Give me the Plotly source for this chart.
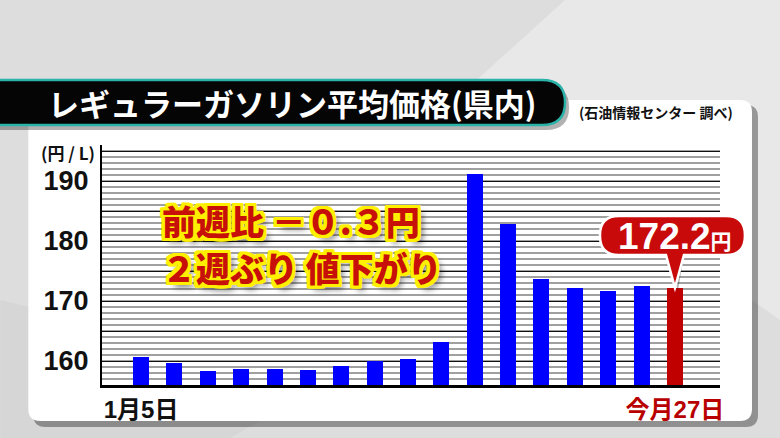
import plotly.graph_objects as go

# weekly average price of regular gasoline (yen / litre)
weeks = ["1月5日", "1月12日", "1月19日", "1月26日", "2月2日", "2月9日", "2月16日",
         "2月23日", "3月2日", "3月9日", "3月16日", "3月23日", "3月30日", "4月6日",
         "4月13日", "4月20日", "4月27日"]
prices = [160.6, 159.6, 158.3, 158.7, 158.7, 158.5, 159.1, 160.0, 160.3,
          163.2, 191.2, 182.9, 173.6, 172.1, 171.7, 172.5, 172.2]
y_ticks = [160, 165, 170, 175, 180, 185, 190, 195]
y_labels = ["160", "", "170", "", "180", "", "190", ""]
x_labels = ["1月5日", "<span style='color:#b80000'>今月27日</span>"]

title = "レギュラーガソリン平均価格(県内)"
source = "(石油情報センター 調べ)"
note_lines = ["前週比 －０.３円", "２週ぶり 値下がり"]
latest = "172.2<span style='font-size:21px'>円</span>"

W, H = 780, 438
L, R, T, B = 101.7, 720, 145, 385
YR = [156, 196]
XR = [-1.17, len(weeks) - 1 + 1.35]

def px(x):
    return (x - L) / (R - L)

def py(y):
    return (B - y) / (B - T)

def pt(x, y):
    return f"{px(x):.5f},{py(y):.5f}"

def rrect(x0, y0, x1, y1, r):
    return (f"M{pt(x0 + r, y0)} L{pt(x1 - r, y0)} Q{pt(x1, y0)} {pt(x1, y0 + r)} "
            f"L{pt(x1, y1 - r)} Q{pt(x1, y1)} {pt(x1 - r, y1)} L{pt(x0 + r, y1)} "
            f"Q{pt(x0, y1)} {pt(x0, y1 - r)} L{pt(x0, y0 + r)} Q{pt(x0, y0)} {pt(x0 + r, y0)} Z")

def bar_px(i, v):
    # pixel position of the top centre of bar i
    x = L + (i - XR[0]) / (XR[1] - XR[0]) * (R - L)
    y = B - (v - YR[0]) / (YR[1] - YR[0]) * (B - T)
    return x, y

colors = ["#0000ff"] * (len(prices) - 1) + ["#c00000"]

fig = go.Figure()
fig.add_trace(go.Bar(x=weeks, y=prices, marker=dict(color=colors, line=dict(width=0)),
                     width=0.48, hoverinfo="skip"))

shapes = []
# background light band
shapes.append(dict(type="path", xref="paper", yref="paper", layer="below",
                   path=f"M{pt(565, 0)} L{pt(780, 0)} L{pt(780, 320)} L{pt(460, 95)} Z",
                   fillcolor="#e8e8e8", line=dict(width=0)))
shapes.append(dict(type="path", xref="paper", yref="paper", layer="below",
                   path=f"M{pt(0, 300)} L{pt(0, 438)} L{pt(230, 438)} L{pt(330, 380)} Z",
                   fillcolor="#d6d6d6", line=dict(width=0)))
# card shadow + card
shapes.append(dict(type="path", xref="paper", yref="paper", layer="below",
                   path=rrect(33, 105, 758, 427, 12), fillcolor="rgba(0,0,0,0.35)", line=dict(width=0)))
shapes.append(dict(type="path", xref="paper", yref="paper", layer="below",
                   path=rrect(28, 100, 752, 421, 12), fillcolor="#ffffff", line=dict(width=0)))
# title bar shadow + bar
tb = f"M{pt(-10, 80)} L{pt(542, 80)} Q{pt(565, 80)} {pt(565, 102.5)} Q{pt(565, 125)} {pt(542, 125)} L{pt(-10, 125)} Z"
tbs = f"M{pt(-10, 85)} L{pt(546, 85)} Q{pt(569, 85)} {pt(569, 107.5)} Q{pt(569, 130)} {pt(546, 130)} L{pt(-10, 130)} Z"
shapes.append(dict(type="path", xref="paper", yref="paper", layer="below",
                   path=tbs, fillcolor="rgba(0,0,0,0.3)", line=dict(width=0)))
shapes.append(dict(type="path", xref="paper", yref="paper", layer="below",
                   path=tb, fillcolor="#050505", line=dict(color="#2bb3aa", width=2.5)))

# callout for latest value, tip on the last bar
tx, ty = bar_px(len(prices) - 1, prices[-1])
x0, y0, x1, y1, r = tx - 75, 216, tx + 70, 255, 19
call = (f"M{pt(x0 + r, y0)} L{pt(x1 - r, y0)} Q{pt(x1, y0)} {pt(x1, y0 + r)} "
        f"L{pt(x1, y1 - r)} Q{pt(x1, y1)} {pt(x1 - r, y1)} L{pt(tx + 9, y1)} L{pt(tx, ty)} "
        f"L{pt(tx - 9, y1)} L{pt(x0 + r, y1)} Q{pt(x0, y1)} {pt(x0, y1 - r)} "
        f"L{pt(x0, y0 + r)} Q{pt(x0, y0)} {pt(x0 + r, y0)} Z")
shapes.append(dict(type="path", xref="paper", yref="paper", layer="above",
                   path=call.replace(pt(tx, ty), pt(tx + 3, ty + 3)),
                   fillcolor="rgba(0,0,0,0.3)", line=dict(width=0)))
shapes.append(dict(type="path", xref="paper", yref="paper", layer="above",
                   path=call, fillcolor="#c80a0a", line=dict(color="#ffffff", width=2.5)))

yellow = "#fff000"
outline = ", ".join(f"{dx}px {dy}px 0 {yellow}" for dx in (-3, -1.5, 0, 1.5, 3)
                    for dy in (-3, -1.5, 0, 1.5, 3) if dx or dy)
note_font = dict(family="Noto Sans CJK JP", size=34, color="#c8100a", weight=900,
                 shadow=outline + ", 5px 5px 6px rgba(0,0,0,0.55)")

annotations = [
    dict(text=title, x=px(46), y=py(102.5), xref="paper", yref="paper", xanchor="left",
         yanchor="middle", showarrow=False,
         font=dict(family="Noto Sans CJK JP", size=31, color="#ffffff", weight="bold")),
    dict(text=source, x=px(577), y=py(112), xref="paper", yref="paper", xanchor="left",
         yanchor="middle", showarrow=False,
         font=dict(family="Noto Sans CJK JP", size=14, color="#111111", weight="bold")),
    dict(text="(円 / L)", x=px(97), y=py(152), xref="paper", yref="paper", xanchor="right",
         yanchor="middle", showarrow=False,
         font=dict(family="Noto Sans CJK JP", size=17, color="#111111", weight="bold")),
    dict(text=note_lines[0], x=px(161), y=py(220), xref="paper", yref="paper", xanchor="left",
         yanchor="middle", showarrow=False, borderpad=0, font=note_font),
    dict(text=note_lines[1], x=px(161), y=py(267), xref="paper", yref="paper", xanchor="left",
         yanchor="middle", showarrow=False, borderpad=0, font=note_font),
    dict(text=latest, x=px(tx), y=py(236), xref="paper", yref="paper", xanchor="center",
         yanchor="middle", showarrow=False,
         font=dict(family="Liberation Sans, Noto Sans CJK JP", size=37, color="#ffffff",
                   weight="bold")),
]

fig.update_layout(
    width=W, height=H, autosize=False,
    margin=dict(l=L, r=W - R, t=T, b=H - B, pad=0),
    paper_bgcolor="#dddddd", plot_bgcolor="rgba(0,0,0,0)",
    showlegend=False, bargap=0,
    shapes=shapes, annotations=annotations,
)
fig.update_xaxes(
    type="category", range=XR, tickmode="array",
    tickvals=[weeks[0], weeks[-1]], ticktext=x_labels,
    showgrid=False, showline=True, linecolor="#000000", linewidth=3,
    ticks="", ticklabelstandoff=1,
    tickfont=dict(family="Liberation Sans, Noto Sans CJK JP", size=24, color="#111111",
                  weight="bold"),
    fixedrange=True,
)
fig.update_yaxes(
    range=YR, tickmode="array", tickvals=y_ticks, ticktext=y_labels,
    showgrid=True, gridcolor="#111111", gridwidth=1.2,
    minor=dict(tickvals=list(range(YR[0], YR[1] + 1)), showgrid=True,
               gridcolor="#a0a0a0", gridwidth=1.5),
    showline=True, linecolor="#000000", linewidth=2, zeroline=False,
    ticks="", ticklabelstandoff=6,
    tickfont=dict(family="Liberation Sans", size=27, color="#111111", weight="bold"),
    fixedrange=True,
)

fig.write_html("out.html", config={"displayModeBar": False},
               post_script="document.body.style.margin='0';document.body.style.overflow='hidden';")
